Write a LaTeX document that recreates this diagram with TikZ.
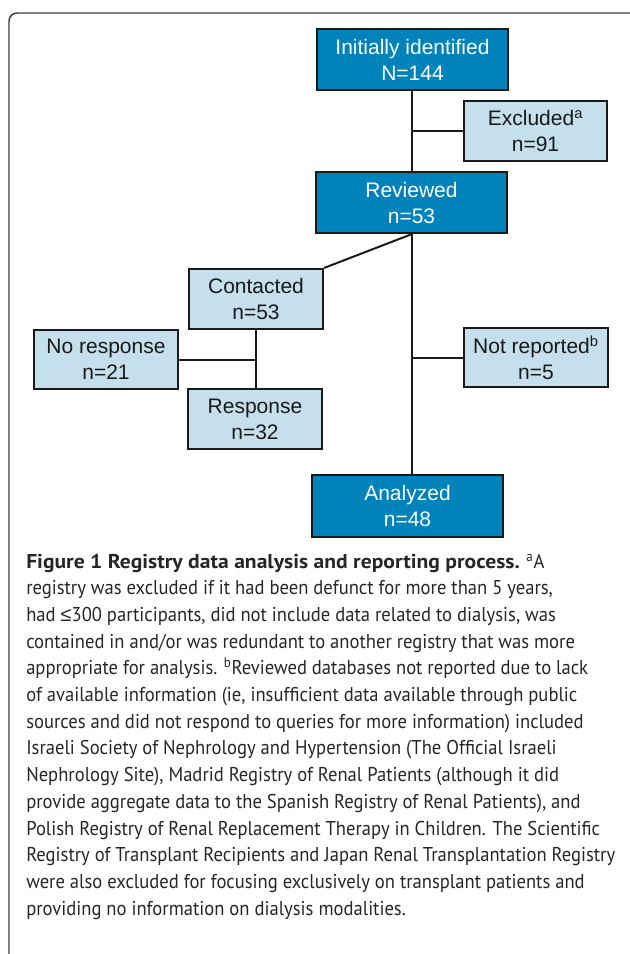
\documentclass[tikz,border=0pt]{standalone}
\usepackage{fontspec}
\setmainfont{Liberation Sans}
\newfontfamily\capfont{PT Sans}[FakeStretch=0.93]
\newfontfamily\capboldfont{PT Sans}[FakeStretch=1.08]
\newfontfamily\symfont{Liberation Sans}
\definecolor{darkblue}{HTML}{0082BA}
\definecolor{lightblue}{HTML}{C5DFEC}
\definecolor{edgecol}{HTML}{1A1A1A}
\definecolor{captext}{HTML}{262626}
\definecolor{framecol}{HTML}{3A3A3A}
\newcommand\boxfnt{\fontsize{15.75pt}{19.5pt}\selectfont}
\newcommand\capfnt{\capfont\fontsize{15pt}{20pt}\selectfont}
\newcommand\captitle[1]{{\capboldfont\bfseries #1}}
\begin{document}
\begin{tikzpicture}[x=0.75pt,y=-0.75pt,
  boxbase/.style={draw=edgecol, line width=1.6pt, inner sep=0pt, align=center, font=\boxfnt},
  darkbox/.style={boxbase, fill=darkblue, text=white},
  lightbox/.style={boxbase, fill=lightblue, text=edgecol},
  conn/.style={draw=edgecol, line width=1.5pt},
  capline/.style={anchor=base west, inner sep=0pt, font=\capfnt, text=captext}]
\useasboundingbox (0,0) rectangle (629,954);
\draw[framecol, line width=1.1pt, rounded corners=6pt] (9,13) rectangle (640,966);

\node[darkbox, minimum width={191*0.75pt}, minimum height={61*0.75pt}] (init) at (412.5,59.5) {Initially identified\\N=144};
\node[lightbox, minimum width={143*0.75pt}, minimum height={60*0.75pt}] (excl) at (535.5,131) {Excluded\textsuperscript{a}\\n=91};
\node[darkbox, minimum width={191*0.75pt}, minimum height={61*0.75pt}] (rev) at (411.5,202.5) {Reviewed\\n=53};
\node[lightbox, minimum width={134*0.75pt}, minimum height={60*0.75pt}] (cont) at (256,299) {Contacted\\n=53};
\node[lightbox, minimum width={144*0.75pt}, minimum height={59*0.75pt}] (nores) at (106,359.5) {No response\\n=21};
\node[lightbox, minimum width={134*0.75pt}, minimum height={60*0.75pt}] (resp) at (255,419) {Response\\n=32};
\node[lightbox, minimum width={144*0.75pt}, minimum height={59*0.75pt}] (notrep) at (536,357.5) {Not reported\textsuperscript{b}\\n=5};
\node[darkbox, minimum width={191*0.75pt}, minimum height={62*0.75pt}] (anal) at (407.5,506) {Analyzed\\n=48};

\coordinate (mainx) at (412,0);
\draw[conn] (init.south -| mainx) -- (rev.north -| mainx);
\draw[conn] (excl.west) -- (excl.west -| mainx);
\draw[conn] (rev.south -| mainx) -- (anal.north -| mainx);
\draw[conn] (notrep.west) -- (notrep.west -| mainx);
\draw[conn] (rev.south -| mainx) -- (cont.north east);
\draw[conn] (cont.south) -- (resp.north -| cont.south);
\draw[conn] (nores.east) -- (nores.east -| cont.south);

\node[capline] (c1) at (26,568) {\captitle{Figure 1 Registry data analysis and reporting process.} \textsuperscript{a}A};
\node[capline] (c2) at (26,594.7) {registry was excluded if it had been defunct for more than 5 years,};
\node[capline] (c3) at (26,621.4) {had {\symfont ≤}300 participants, did not include data related to dialysis, was};
\node[capline] (c4) at (26,648.1) {contained in and/or was redundant to another registry that was more};
\node[capline] (c5) at (26,674.8) {appropriate for analysis. \textsuperscript{b}Reviewed databases not reported due to lack};
\node[capline] (c6) at (26,701.5) {of available information (ie, insufficient data available through public};
\node[capline] (c7) at (26,728.2) {sources and did not respond to queries for more information) included};
\node[capline] (c8) at (26,754.9) {Israeli Society of Nephrology and Hypertension (The Official Israeli};
\node[capline] (c9) at (26,781.6) {Nephrology Site), Madrid Registry of Renal Patients (although it did};
\node[capline] (c10) at (26,808.3) {provide aggregate data to the Spanish Registry of Renal Patients), and};
\node[capline] (c11) at (26,835) {Polish Registry of Renal Replacement Therapy in Children. The Scientific};
\node[capline] (c12) at (26,861.7) {Registry of Transplant Recipients and Japan Renal Transplantation Registry};
\node[capline] (c13) at (26,888.4) {were also excluded for focusing exclusively on transplant patients and};
\node[capline] (c14) at (26,915.1) {providing no information on dialysis modalities.};
\end{tikzpicture}
\end{document}
